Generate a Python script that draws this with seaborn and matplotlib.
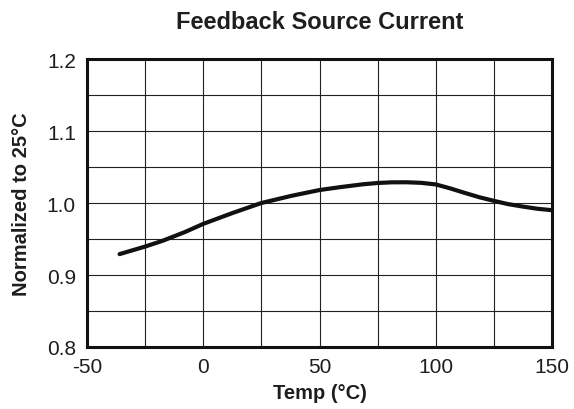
import numpy as np
import pandas as pd
import matplotlib
matplotlib.use('Agg')
import matplotlib.pyplot as plt
import seaborn as sns

# Values
temp = [-36, -25, -17.5, -8, 0, 12.5, 25, 38, 50, 58.8, 68.75, 75, 81, 87.5, 93.75,
        100, 106, 112.5, 118.75, 125, 131, 137.5, 143.75, 150]
norm = [0.929, 0.9395, 0.9475, 0.9595, 0.971, 0.986, 1.000, 1.010, 1.018, 1.022, 1.026, 1.0278, 1.0287, 1.0288, 1.0280,
        1.0258, 1.0205, 1.014, 1.008, 1.003, 0.9985, 0.995, 0.992, 0.990]

x_ticks = [-50, 0, 50, 100, 150]
y_ticks = [0.8, 0.9, 1.0, 1.1, 1.2]

df = pd.DataFrame({'Temp': temp, 'Norm': norm})

sns.set_style('white')
plt.rcParams['font.family'] = ['Liberation Sans', 'DejaVu Sans']
ink = '#1e1e1e'

fig = plt.figure(figsize=(5.74, 4.10), dpi=100)
ax = fig.add_axes([87 / 574, 1 - 348 / 410, (552 - 87) / 574, (348 - 60) / 410])

sns.lineplot(data=df, x='Temp', y='Norm', ax=ax, color='#111111', linewidth=3)

ax.set_xlim(-50, 150)
ax.set_ylim(0.8, 1.2)
ax.set_xticks(np.arange(-50, 151, 25), minor=True)
ax.set_yticks(np.arange(0.8, 1.201, 0.05), minor=True)
ax.set_xticks(x_ticks)
ax.set_yticks(y_ticks)
ax.set_xticklabels([str(t) for t in x_ticks], fontsize=15, color=ink)
ax.set_yticklabels([f'{t:.1f}' for t in y_ticks], fontsize=15, color=ink)
ax.grid(True, which='both', color='#222222', linewidth=0.8)
ax.tick_params(which='both', length=0)
ax.tick_params(axis='x', pad=7)
ax.tick_params(axis='y', pad=8)

for s in ax.spines.values():
    s.set_visible(True)
    s.set_linewidth(2.2)
    s.set_color('#111111')

ax.set_xlabel('Temp (°C)', fontsize=14.5, fontweight='bold', labelpad=5, color=ink)
ax.set_ylabel('Normalized to 25°C', fontsize=14.5, fontweight='bold', labelpad=11, color=ink)
ax.set_title('Feedback Source Current', fontsize=17, fontweight='bold', pad=22, color=ink)

fig.savefig('out.png', dpi=100)
